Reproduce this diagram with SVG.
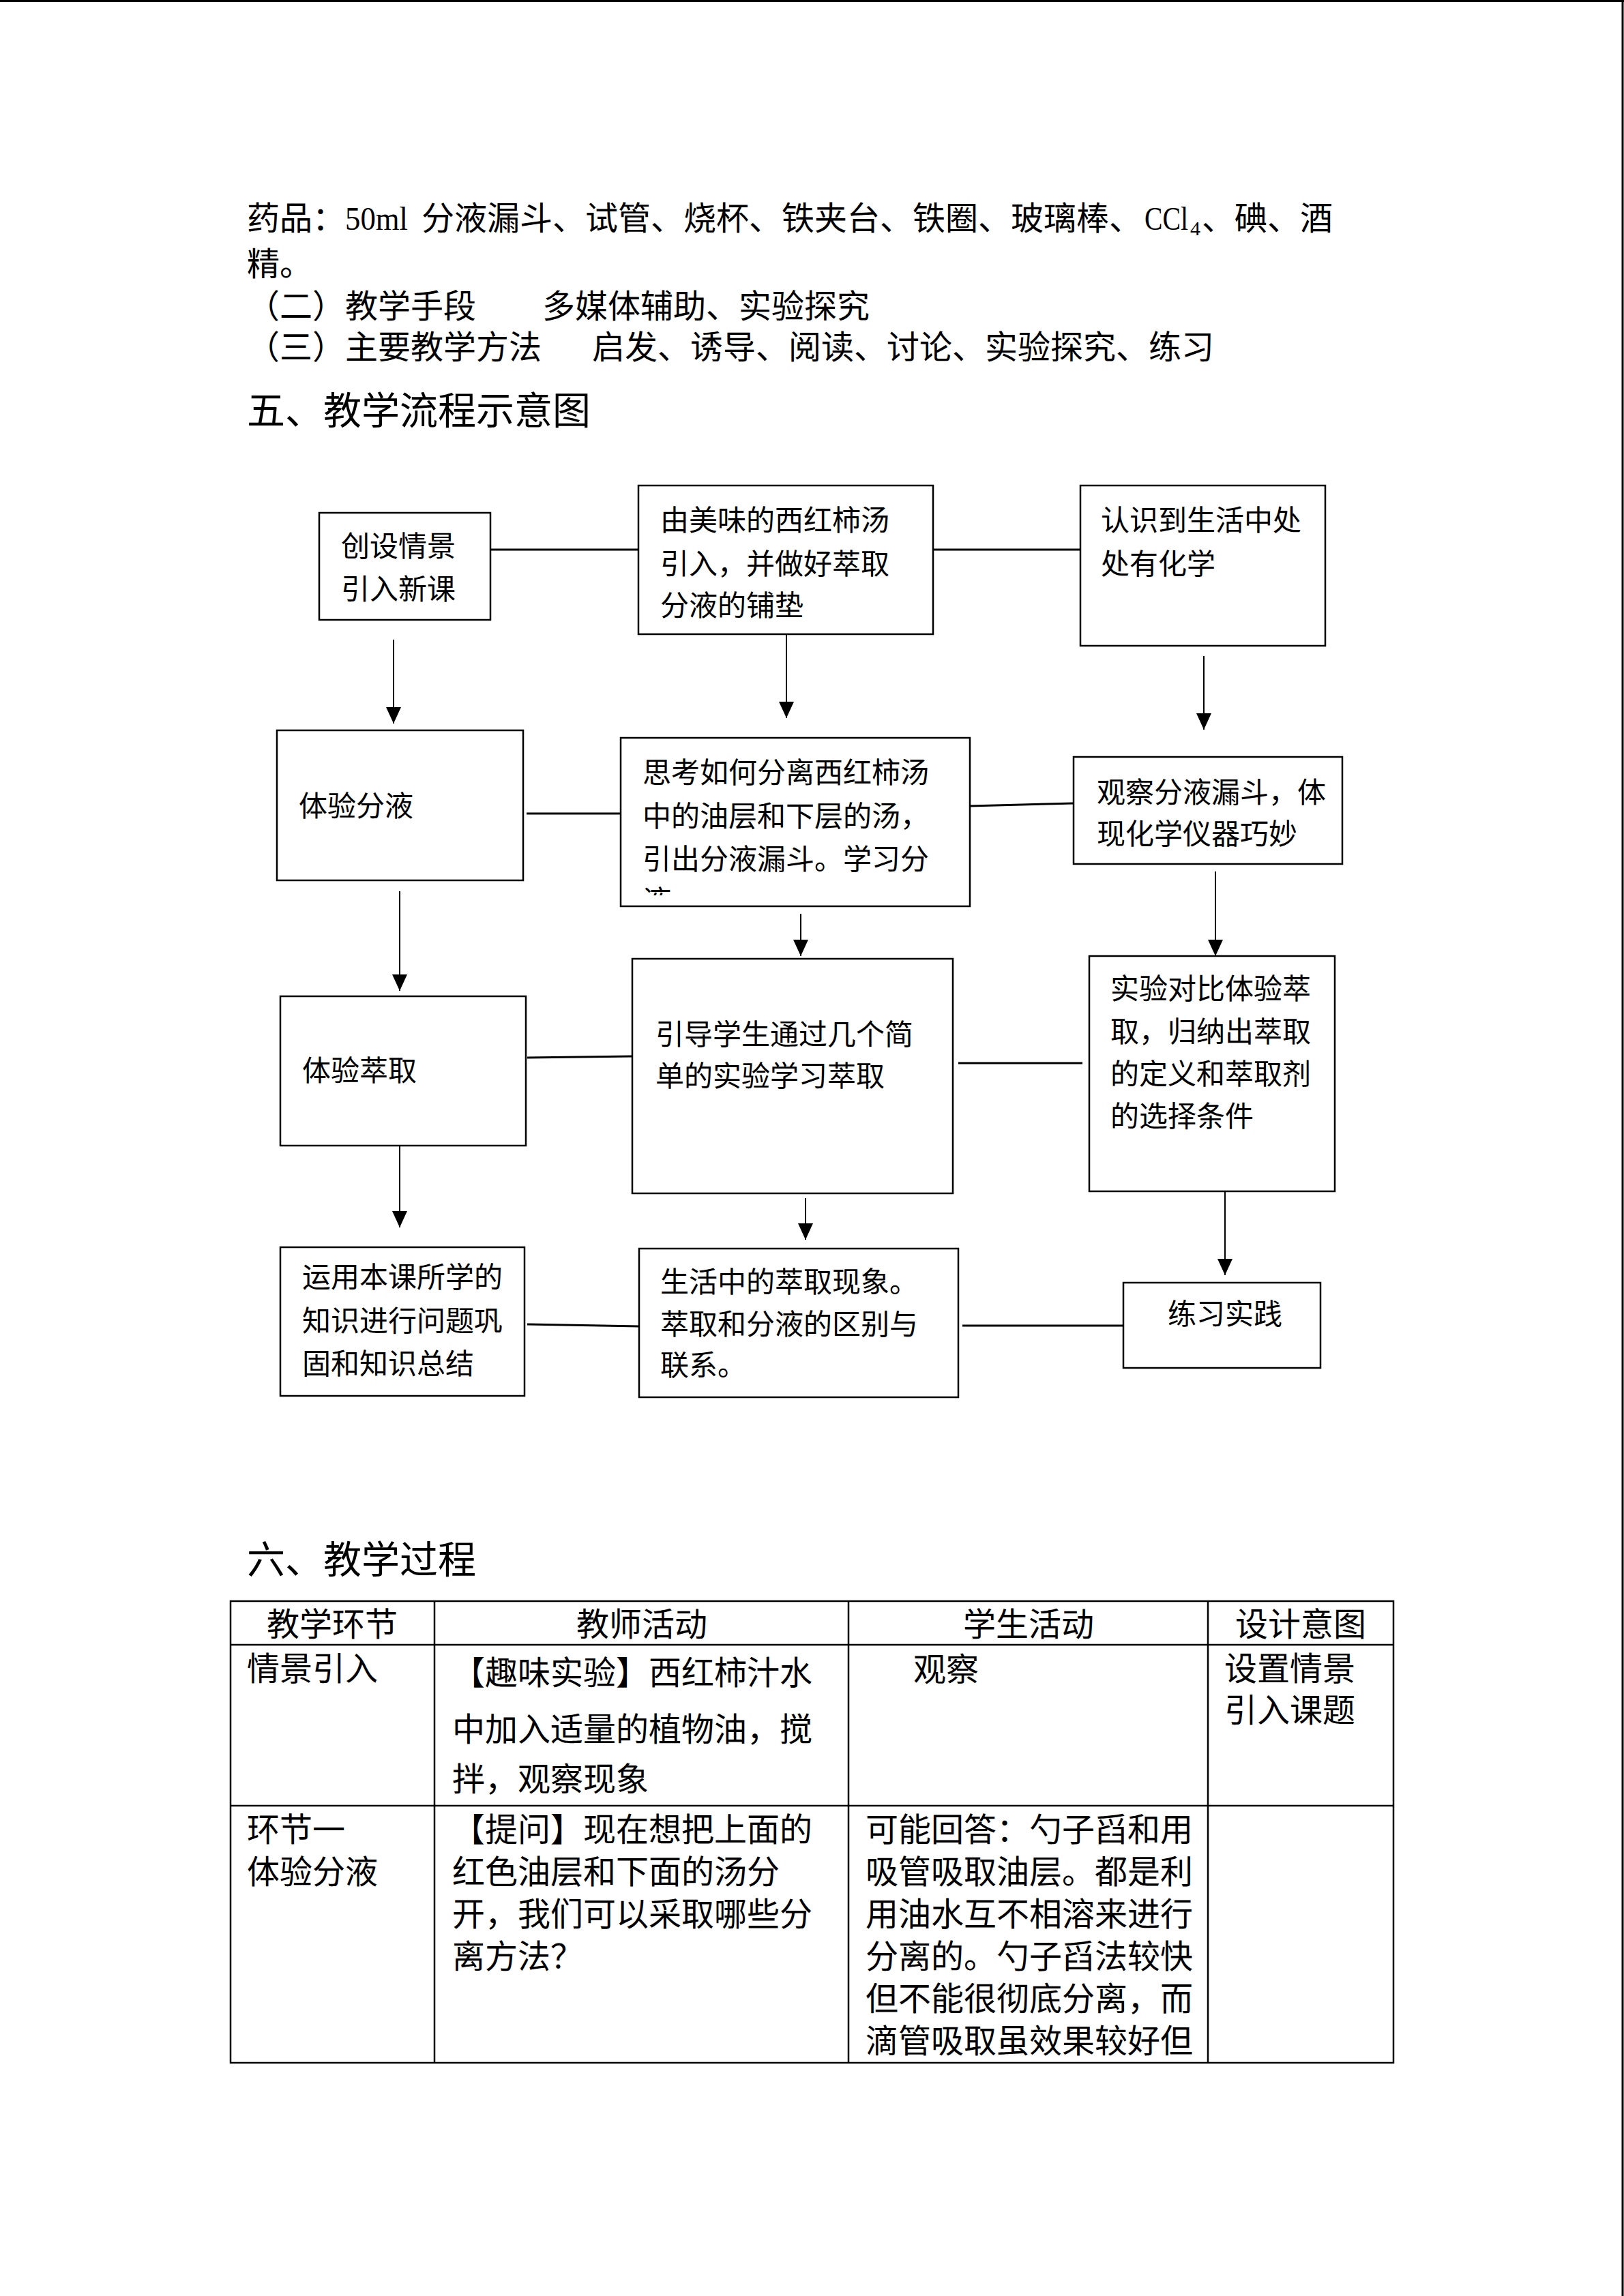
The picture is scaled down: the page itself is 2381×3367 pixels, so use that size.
<svg xmlns="http://www.w3.org/2000/svg" width="2381" height="3367" viewBox="0 0 2381 3367">
<style>
text{font-family:"Noto Sans CJK SC","Noto Sans",sans-serif;fill:#000}
.t48{font-size:48px}
.t56{font-size:56px}
.t42{font-size:42px}
.lat{font-family:"Liberation Serif","Noto Sans CJK SC",serif}
.box{fill:#fff;stroke:#000;stroke-width:2.5}
.conn{stroke:#000;stroke-width:3;fill:none}
.arr{stroke:#000;stroke-width:2;fill:none;marker-end:url(#ah)}
.tbl{stroke:#000;stroke-width:2.5;fill:none}
.mid{text-anchor:middle}
</style>
<defs>
<marker id="ah" markerUnits="userSpaceOnUse" markerWidth="24" markerHeight="22" refX="24" refY="11" orient="auto">
<path d="M0,0 L24,11 L0,22 Z" fill="#000"/>
</marker>
<clipPath id="clipE"><rect x="910" y="1082" width="512" height="231"/></clipPath>
</defs>
<rect x="0" y="0" width="2381" height="3367" fill="#fff"/>
<line x1="0" y1="1.5" x2="2381" y2="1.5" stroke="#000" stroke-width="3"/>
<line x1="2379" y1="0" x2="2379" y2="3367" stroke="#000" stroke-width="3"/>

<g id="intro-text">
<text class="t48" x="362" y="337">药品：<tspan class="lat" x="506" textLength="92" lengthAdjust="spacingAndGlyphs">50ml</tspan><tspan x="618">分液漏斗、试管、烧杯、铁夹台、铁圈、玻璃棒、</tspan><tspan class="lat" x="1678" textLength="64" lengthAdjust="spacingAndGlyphs">CCl</tspan><tspan class="lat" font-size="30" x="1745" y="345">4</tspan><tspan x="1762" y="337">、碘、酒</tspan></text>
<text class="t48" x="362" y="404">精。</text>
<text class="t48" x="362" y="466">（二）教学手段</text>
<text class="t48" x="795" y="466">多媒体辅助、实验探究</text>
<text class="t48" x="362" y="526">（三）主要教学方法</text>
<text class="t48" x="868" y="526">启发、诱导、阅读、讨论、实验探究、练习</text>
<text class="t56" x="362" y="622">五、教学流程示意图</text>
</g>

<g id="connectors">
<line class="conn" x1="719" y1="806" x2="936" y2="806"/>
<line class="conn" x1="1368" y1="806" x2="1584" y2="806"/>
<line class="conn" x1="772" y1="1193" x2="910" y2="1193"/>
<line class="conn" x1="1422" y1="1182" x2="1574" y2="1178"/>
<line class="conn" x1="773" y1="1551" x2="927" y2="1549"/>
<line class="conn" x1="1405" y1="1559" x2="1587" y2="1559"/>
<line class="conn" x1="773" y1="1942" x2="937" y2="1945"/>
<line class="conn" x1="1411" y1="1944" x2="1647" y2="1944"/>
<line class="arr" x1="577" y1="938" x2="577" y2="1061"/>
<line class="arr" x1="1153" y1="930" x2="1153" y2="1053"/>
<line class="arr" x1="1765" y1="962" x2="1765" y2="1070"/>
<line class="arr" x1="586" y1="1307" x2="586" y2="1453"/>
<line class="arr" x1="1174" y1="1340" x2="1174" y2="1402"/>
<line class="arr" x1="1782" y1="1278" x2="1782" y2="1402"/>
<line class="arr" x1="586" y1="1678" x2="586" y2="1800"/>
<line class="arr" x1="1181" y1="1757" x2="1181" y2="1818"/>
<line class="arr" x1="1796" y1="1747" x2="1796" y2="1870"/>
</g>

<g id="nodeA">
<rect class="box" x="468" y="752" width="251" height="157"/>
<text class="t42" x="500" y="816">创设情景</text>
<text class="t42" x="500" y="879">引入新课</text>
</g>
<g id="nodeB">
<rect class="box" x="936" y="712" width="432" height="218"/>
<text class="t42" x="968" y="778">由美味的西红柿汤</text>
<text class="t42" x="968" y="842">引入，并做好萃取</text>
<text class="t42" x="968" y="903">分液的铺垫</text>
</g>
<g id="nodeC">
<rect class="box" x="1584" y="712" width="359" height="235"/>
<text class="t42" x="1614" y="778">认识到生活中处</text>
<text class="t42" x="1614" y="842">处有化学</text>
</g>
<g id="nodeD">
<rect class="box" x="406" y="1071" width="361" height="220"/>
<text class="t42" x="438" y="1197">体验分液</text>
</g>
<g id="nodeE">
<rect class="box" x="910" y="1082" width="512" height="247"/>
<text class="t42" x="942" y="1148">思考如何分离西红柿汤</text>
<text class="t42" x="942" y="1212">中的油层和下层的汤，</text>
<text class="t42" x="942" y="1275">引出分液漏斗。学习分</text>
<text class="t42" x="942" y="1336" clip-path="url(#clipE)">液</text>
</g>
<g id="nodeF">
<rect class="box" x="1574" y="1110" width="394" height="157"/>
<text class="t42" x="1608" y="1177">观察分液漏斗，体</text>
<text class="t42" x="1608" y="1238">现化学仪器巧妙</text>
</g>
<g id="nodeG">
<rect class="box" x="411" y="1461" width="360" height="219"/>
<text class="t42" x="443" y="1585">体验萃取</text>
</g>
<g id="nodeH">
<rect class="box" x="927" y="1406" width="470" height="344"/>
<text class="t42" x="961" y="1532">引导学生通过几个简</text>
<text class="t42" x="961" y="1593">单的实验学习萃取</text>
</g>
<g id="nodeI">
<rect class="box" x="1597" y="1402" width="360" height="345"/>
<text class="t42" x="1628" y="1465">实验对比体验萃</text>
<text class="t42" x="1628" y="1528">取，归纳出萃取</text>
<text class="t42" x="1628" y="1590">的定义和萃取剂</text>
<text class="t42" x="1628" y="1652">的选择条件</text>
</g>
<g id="nodeJ">
<rect class="box" x="411" y="1829" width="358" height="218"/>
<text class="t42" x="443" y="1888">运用本课所学的</text>
<text class="t42" x="443" y="1952">知识进行问题巩</text>
<text class="t42" x="443" y="2015">固和知识总结</text>
</g>
<g id="nodeK">
<rect class="box" x="937" y="1831" width="468" height="218"/>
<text class="t42" x="968" y="1895">生活中的萃取现象。</text>
<text class="t42" x="968" y="1957">萃取和分液的区别与</text>
<text class="t42" x="968" y="2017">联系。</text>
</g>
<g id="nodeL">
<rect class="box" x="1647" y="1881" width="289" height="125"/>
<text class="t42" x="1712" y="1942">练习实践</text>
</g>

<g id="section6">
<text class="t56" x="362" y="2307">六、教学过程</text>
</g>

<g id="table">
<rect class="tbl" x="338" y="2348" width="1705" height="677"/>
<line class="tbl" x1="338" y1="2412" x2="2043" y2="2412"/>
<line class="tbl" x1="338" y1="2648" x2="2043" y2="2648"/>
<line class="tbl" x1="637" y1="2348" x2="637" y2="3025"/>
<line class="tbl" x1="1244" y1="2348" x2="1244" y2="3025"/>
<line class="tbl" x1="1771" y1="2348" x2="1771" y2="3025"/>
<text class="t48 mid" x="487" y="2399">教学环节</text>
<text class="t48 mid" x="941" y="2399">教师活动</text>
<text class="t48 mid" x="1508" y="2399">学生活动</text>
<text class="t48 mid" x="1907" y="2399">设计意图</text>
<text class="t48" x="362" y="2464">情景引入</text>
<text class="t48" x="663" y="2470">【趣味实验】西红柿汁水</text>
<text class="t48" x="663" y="2553">中加入适量的植物油，搅</text>
<text class="t48" x="663" y="2626">拌，观察现象</text>
<text class="t48" x="1339" y="2465">观察</text>
<text class="t48" x="1795" y="2464">设置情景</text>
<text class="t48" x="1795" y="2525">引入课题</text>
<text class="t48" x="362" y="2700">环节一</text>
<text class="t48" x="362" y="2762">体验分液</text>
<text class="t48" x="663" y="2700">【提问】现在想把上面的</text>
<text class="t48" x="663" y="2762">红色油层和下面的汤分</text>
<text class="t48" x="663" y="2824">开，我们可以采取哪些分</text>
<text class="t48" x="663" y="2886">离方法？</text>
<text class="t48" x="1269" y="2700">可能回答：勺子舀和用</text>
<text class="t48" x="1269" y="2762">吸管吸取油层。都是利</text>
<text class="t48" x="1269" y="2824">用油水互不相溶来进行</text>
<text class="t48" x="1269" y="2886">分离的。勺子舀法较快</text>
<text class="t48" x="1269" y="2948">但不能很彻底分离，而</text>
<text class="t48" x="1269" y="3010">滴管吸取虽效果较好但</text>
</g>
</svg>
